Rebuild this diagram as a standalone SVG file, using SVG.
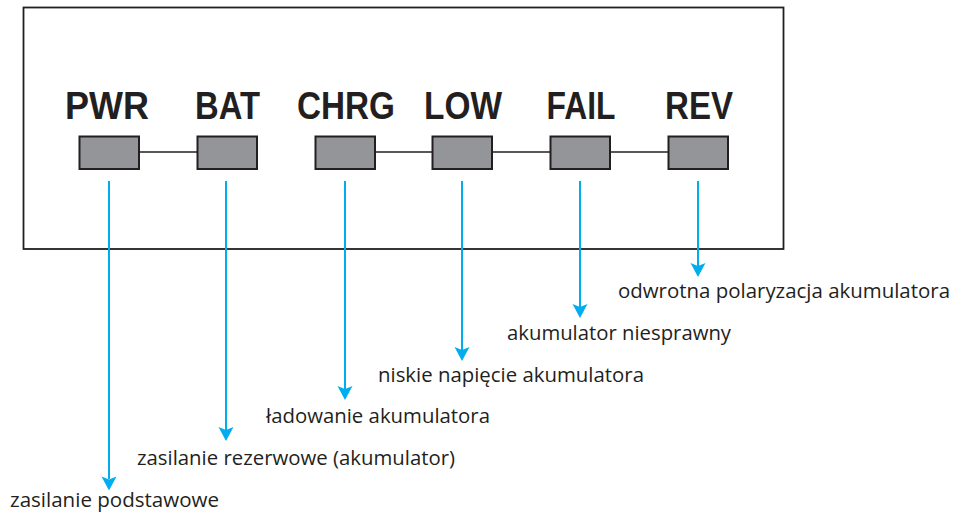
<svg xmlns="http://www.w3.org/2000/svg" width="956" height="513" viewBox="0 0 956 513">
<style>
.frame{fill:#fff;stroke:#231f20;stroke-width:1.8}
.led{fill:#939598;stroke:#231f20;stroke-width:2}
.lbl{font-family:"Liberation Sans",Arial,sans-serif;font-weight:bold;font-size:38px;fill:#231f20}
.wire{stroke:#231f20;stroke-width:1.3;fill:none}
.arr{stroke:#00aeef;stroke-width:2;fill:none}
.desc{font-family:"Open Sans","Noto Sans",sans-serif;font-size:20px;fill:#231f20}
.head{fill:#00aeef}
</style>
<rect class="frame" x="23.5" y="7.5" width="760" height="241.5"/>
<g id="connectors">
<line class="wire" x1="139" y1="152" x2="197" y2="152"/>
<line class="wire" x1="375" y1="152" x2="432" y2="152"/>
<line class="wire" x1="492" y1="152" x2="550" y2="152"/>
<line class="wire" x1="610" y1="152" x2="668" y2="152"/>
<path class="arr" d="M109,181 V479"/>
<path class="arr" d="M226,181 V430"/>
<path class="arr" d="M345,181 V389"/>
<path class="arr" d="M462,181 V350"/>
<path class="arr" d="M580,181 V307"/>
<path class="arr" d="M698,181 V266"/>
<path class="head" d="M109,490.5 L101.5,476.5 L109,479.5 L116.5,476.5 Z"/>
<path class="head" d="M226,441 L218.5,427 L226,430 L233.5,427 Z"/>
<path class="head" d="M345,400 L337.5,386 L345,389 L352.5,386 Z"/>
<path class="head" d="M462,361 L454.5,347 L462,350 L469.5,347 Z"/>
<path class="head" d="M580,318 L572.5,304 L580,307 L587.5,304 Z"/>
<path class="head" d="M698,277 L690.5,263 L698,266 L705.5,263 Z"/>
</g>
<g id="pwr">
<text class="lbl" x="107" y="119" text-anchor="middle" textLength="84" lengthAdjust="spacingAndGlyphs">PWR</text>
<rect class="led" x="79.5" y="136.5" width="59.5" height="32.5"/>
<text class="desc" x="10" y="507" textLength="209" lengthAdjust="spacingAndGlyphs">zasilanie podstawowe</text>
</g>
<g id="bat">
<text class="lbl" x="227.5" y="119" text-anchor="middle" textLength="65" lengthAdjust="spacingAndGlyphs">BAT</text>
<rect class="led" x="197.5" y="136.5" width="59.5" height="32.5"/>
<text class="desc" x="137" y="465" textLength="318" lengthAdjust="spacingAndGlyphs">zasilanie rezerwowe (akumulator)</text>
</g>
<g id="chrg">
<text class="lbl" x="346" y="119" text-anchor="middle" textLength="98" lengthAdjust="spacingAndGlyphs">CHRG</text>
<rect class="led" x="315.5" y="136.5" width="59.5" height="32.5"/>
<text class="desc" x="266" y="423" textLength="224" lengthAdjust="spacingAndGlyphs">ładowanie akumulatora</text>
</g>
<g id="low">
<text class="lbl" x="463" y="119" text-anchor="middle" textLength="78" lengthAdjust="spacingAndGlyphs">LOW</text>
<rect class="led" x="432.5" y="136.5" width="59.5" height="32.5"/>
<text class="desc" x="378" y="382" textLength="266" lengthAdjust="spacingAndGlyphs">niskie napięcie akumulatora</text>
</g>
<g id="fail">
<text class="lbl" x="581" y="119" text-anchor="middle" textLength="69" lengthAdjust="spacingAndGlyphs">FAIL</text>
<rect class="led" x="550.5" y="136.5" width="59.5" height="32.5"/>
<text class="desc" x="507" y="340" textLength="224" lengthAdjust="spacingAndGlyphs">akumulator niesprawny</text>
</g>
<g id="rev">
<text class="lbl" x="699" y="119" text-anchor="middle" textLength="68" lengthAdjust="spacingAndGlyphs">REV</text>
<rect class="led" x="668.5" y="136.5" width="59.5" height="32.5"/>
<text class="desc" x="618" y="298" textLength="332" lengthAdjust="spacingAndGlyphs">odwrotna polaryzacja akumulatora</text>
</g>
</svg>
